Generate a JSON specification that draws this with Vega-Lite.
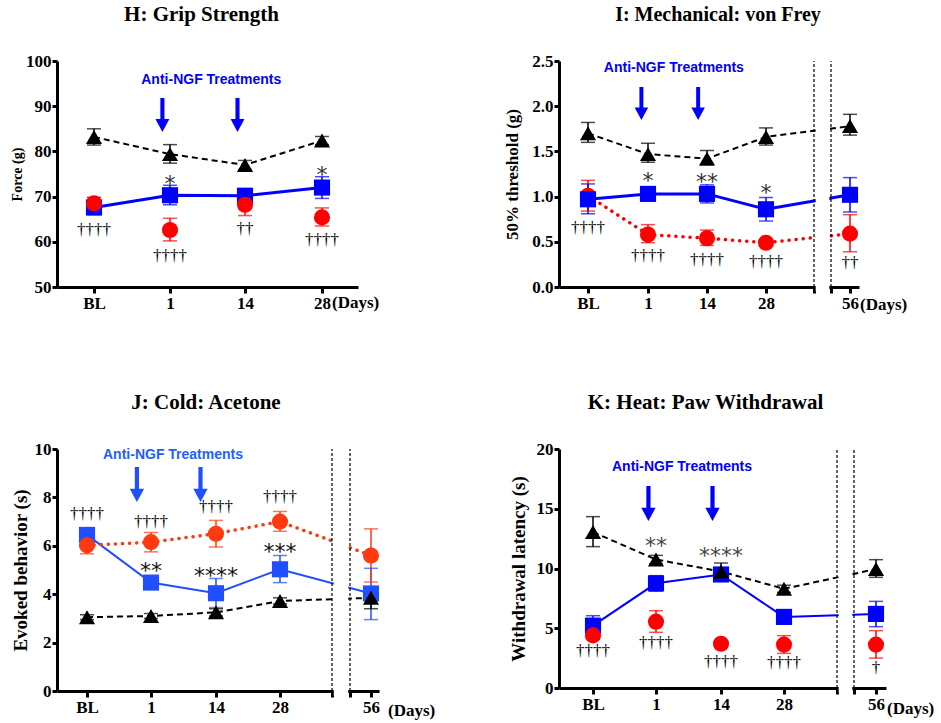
{
"$schema": "https://vega.github.io/schema/vega-lite/v6.json",
"background": "white",
"padding": {"left": 10, "top": 4, "right": 5, "bottom": 5},
"columns": 2,
"spacing": {"row": 162, "column": 180},
"bounds": "flush",
"align": "each",
"resolve": {"scale": {"color": "independent", "shape": "independent"}},
"datasets": {
"H": [
{"day":0,"grp":"Anti-NGF","mean":67.6,"lo":66.0,"hi":69.8},
{"day":1,"grp":"Anti-NGF","mean":70.3,"lo":68.2,"hi":72.5},
{"day":14,"grp":"Anti-NGF","mean":70.2,"lo":68.6,"hi":71.6},
{"day":28,"grp":"Anti-NGF","mean":72.0,"lo":69.6,"hi":74.4},
{"day":0,"grp":"Vehicle","mean":68.5,"lo":67.2,"hi":69.8},
{"day":1,"grp":"Vehicle","mean":62.6,"lo":60.2,"hi":65.2},
{"day":14,"grp":"Vehicle","mean":68.2,"lo":65.8,"hi":70.7},
{"day":28,"grp":"Vehicle","mean":65.4,"lo":63.5,"hi":67.5},
{"day":0,"grp":"Sham","mean":83.2,"lo":81.4,"hi":85.0},
{"day":1,"grp":"Sham","mean":79.4,"lo":77.4,"hi":81.5},
{"day":14,"grp":"Sham","mean":77.0,"lo":76.0,"hi":78.0},
{"day":28,"grp":"Sham","mean":82.4,"lo":81.5,"hi":83.3}
],
"Hann": [
{"day":1,"y":74.0,"label":"*"},
{"day":28,"y":75.8,"label":"*"},
{"day":0,"y":62.6,"label":"††††"},
{"day":1,"y":56.8,"label":"††††"},
{"day":14,"y":62.8,"label":"††"},
{"day":28,"y":60.3,"label":"††††"}
],
"I": [
{"day":0,"grp":"Vehicle","mean":1.01,"lo":0.84,"hi":1.18},
{"day":1,"grp":"Vehicle","mean":0.58,"lo":0.49,"hi":0.69},
{"day":14,"grp":"Vehicle","mean":0.54,"lo":0.46,"hi":0.63},
{"day":28,"grp":"Vehicle","mean":0.49,"lo":0.45,"hi":0.53},
{"day":56,"grp":"Vehicle","mean":0.59,"lo":0.39,"hi":0.80},
{"day":0,"grp":"Anti-NGF","mean":0.97,"lo":0.81,"hi":1.14},
{"day":1,"grp":"Anti-NGF","mean":1.03,"lo":0.97,"hi":1.09},
{"day":14,"grp":"Anti-NGF","mean":1.03,"lo":0.93,"hi":1.13},
{"day":28,"grp":"Anti-NGF","mean":0.86,"lo":0.73,"hi":0.99},
{"day":56,"grp":"Anti-NGF","mean":1.02,"lo":0.83,"hi":1.21},
{"day":0,"grp":"Sham","mean":1.70,"lo":1.60,"hi":1.82},
{"day":1,"grp":"Sham","mean":1.47,"lo":1.38,"hi":1.59},
{"day":14,"grp":"Sham","mean":1.42,"lo":1.35,"hi":1.51},
{"day":28,"grp":"Sham","mean":1.66,"lo":1.57,"hi":1.76},
{"day":56,"grp":"Sham","mean":1.78,"lo":1.68,"hi":1.91}
],
"Iann": [
{"day":1,"y":1.23,"label":"*"},
{"day":14,"y":1.22,"label":"**"},
{"day":28,"y":1.09,"label":"*"},
{"day":0,"y":0.65,"label":"††††"},
{"day":1,"y":0.34,"label":"††††"},
{"day":14,"y":0.30,"label":"††††"},
{"day":28,"y":0.28,"label":"††††"},
{"day":56,"y":0.26,"label":"††"}
],
"J": [
{"day":0,"grp":"Anti-NGF","mean":6.45,"lo":6.3,"hi":6.6},
{"day":1,"grp":"Anti-NGF","mean":4.48,"lo":4.3,"hi":4.65},
{"day":14,"grp":"Anti-NGF","mean":4.04,"lo":3.45,"hi":4.65},
{"day":28,"grp":"Anti-NGF","mean":5.03,"lo":4.48,"hi":5.6},
{"day":56,"grp":"Anti-NGF","mean":4.03,"lo":2.95,"hi":5.07},
{"day":0,"grp":"Vehicle","mean":6.02,"lo":5.67,"hi":6.38},
{"day":1,"grp":"Vehicle","mean":6.15,"lo":5.75,"hi":6.55},
{"day":14,"grp":"Vehicle","mean":6.5,"lo":5.95,"hi":7.05},
{"day":28,"grp":"Vehicle","mean":7.0,"lo":6.6,"hi":7.42},
{"day":56,"grp":"Vehicle","mean":5.6,"lo":4.5,"hi":6.7},
{"day":0,"grp":"Sham","mean":3.05,"lo":2.95,"hi":3.15},
{"day":1,"grp":"Sham","mean":3.1,"lo":3.0,"hi":3.2},
{"day":14,"grp":"Sham","mean":3.25,"lo":3.1,"hi":3.4},
{"day":28,"grp":"Sham","mean":3.72,"lo":3.6,"hi":3.85},
{"day":56,"grp":"Sham","mean":3.85,"lo":3.4,"hi":4.3}
],
"Jann": [
{"day":0,"y":7.3,"label":"††††"},
{"day":1,"y":6.97,"label":"††††"},
{"day":14,"y":7.59,"label":"††††"},
{"day":28,"y":8.0,"label":"††††"},
{"day":1,"y":5.17,"label":"**"},
{"day":14,"y":4.97,"label":"****"},
{"day":28,"y":5.93,"label":"***"}
],
"K": [
{"day":0,"grp":"Anti-NGF","mean":5.22,"lo":4.9,"hi":6.05},
{"day":1,"grp":"Anti-NGF","mean":8.76,"lo":8.1,"hi":9.4},
{"day":14,"grp":"Anti-NGF","mean":9.5,"lo":9.2,"hi":9.9},
{"day":28,"grp":"Anti-NGF","mean":5.95,"lo":5.6,"hi":6.3},
{"day":56,"grp":"Anti-NGF","mean":6.2,"lo":5.13,"hi":7.25},
{"day":0,"grp":"Vehicle","mean":4.4,"lo":4.1,"hi":4.7},
{"day":1,"grp":"Vehicle","mean":5.55,"lo":4.66,"hi":6.47},
{"day":14,"grp":"Vehicle","mean":3.7,"lo":3.5,"hi":3.9},
{"day":28,"grp":"Vehicle","mean":3.63,"lo":2.9,"hi":4.38},
{"day":56,"grp":"Vehicle","mean":3.63,"lo":2.5,"hi":4.8},
{"day":0,"grp":"Sham","mean":13.05,"lo":11.83,"hi":14.34},
{"day":1,"grp":"Sham","mean":10.75,"lo":10.4,"hi":11.1},
{"day":14,"grp":"Sham","mean":9.75,"lo":9.4,"hi":10.46},
{"day":28,"grp":"Sham","mean":8.3,"lo":8.0,"hi":8.6},
{"day":56,"grp":"Sham","mean":9.95,"lo":9.26,"hi":10.74}
],
"Kann": [
{"day":1,"y":12.3,"label":"**"},
{"day":14,"y":11.5,"label":"****"},
{"day":0,"y":3.1,"label":"††††"},
{"day":1,"y":3.8,"label":"††††"},
{"day":14,"y":2.15,"label":"††††"},
{"day":28,"y":2.06,"label":"††††"},
{"day":56,"y":1.7,"label":"†"}
]
},
"concat": [
{
"width": 301, "height": 226,
"title": {"text": "H: Grip Strength", "dx": -6},
"encoding": {
"x": {"field": "day", "type": "quantitative", "title": null,
"scale": {"domain": [-1, 0, 1, 14, 28, 35], "range": [0, 37, 113, 188, 265, 301], "nice": false, "zero": false},
"axis": {"values": [0, 1, 14, 28], "labelExpr": "datum.value==0?'BL':datum.label"}},
"y": {"field": "mean", "type": "quantitative", "title": "Force (g)",
"scale": {"domain": [50, 100], "nice": false, "zero": false},
"axis": {"values": [50, 60, 70, 80, 90, 100], "titleX": -33, "titleFontSize": 14}}
},
"layer": [
{"data": {"name": "H"}, "transform": [{"filter": "datum.grp=='Sham'"}], "mark": {"type": "line", "color": "black", "strokeWidth": 2, "strokeDash": [6, 4]}},
{"data": {"name": "H"}, "transform": [{"filter": "datum.grp=='Anti-NGF'"}], "mark": {"type": "line", "color": "#0000ff", "strokeWidth": 3}},
{"data": {"name": "H"}, "mark": {"type": "rule", "strokeWidth": 1.5},
"encoding": {"y": {"field": "lo", "type": "quantitative"}, "y2": {"field": "hi"},
"color": {"field": "grp", "type": "nominal", "legend": null, "scale": {"domain": ["Sham", "Vehicle", "Anti-NGF"], "range": ["black", "#ff0000", "#0000ff"]}}}},
{"data": {"name": "H"}, "mark": {"type": "tick", "orient": "horizontal", "size": 14, "thickness": 1.5},
"encoding": {"y": {"field": "lo", "type": "quantitative"},
"color": {"field": "grp", "type": "nominal", "legend": null, "scale": {"domain": ["Sham", "Vehicle", "Anti-NGF"], "range": ["black", "#ff0000", "#0000ff"]}}}},
{"data": {"name": "H"}, "mark": {"type": "tick", "orient": "horizontal", "size": 14, "thickness": 1.5},
"encoding": {"y": {"field": "hi", "type": "quantitative"},
"color": {"field": "grp", "type": "nominal", "legend": null, "scale": {"domain": ["Sham", "Vehicle", "Anti-NGF"], "range": ["black", "#ff0000", "#0000ff"]}}}},
{"data": {"name": "H"}, "mark": {"type": "point", "filled": true, "opacity": 1, "size": 260},
"encoding": {
"color": {"field": "grp", "type": "nominal", "legend": null, "scale": {"domain": ["Sham", "Vehicle", "Anti-NGF"], "range": ["black", "#ff0000", "#0000ff"]}},
"shape": {"field": "grp", "type": "nominal", "legend": null, "scale": {"domain": ["Sham", "Vehicle", "Anti-NGF"], "range": ["triangle-up", "circle", "square"]}}}},
{"data": {"name": "Hann"}, "transform": [{"filter": "indexof(datum.label,'*')>=0"}], "mark": {"type": "text", "font": "DejaVu Sans", "fontSize": 22, "baseline": "alphabetic", "dy": 12, "color": "#333333"},
"encoding": {"y": {"field": "y", "type": "quantitative"}, "text": {"field": "label"}}},
{"data": {"name": "Hann"}, "transform": [{"filter": "indexof(datum.label,'*')<0"}], "mark": {"type": "text", "font": "Liberation Serif", "fontSize": 17, "baseline": "middle", "color": "black"},
"encoding": {"y": {"field": "y", "type": "quantitative"}, "text": {"field": "label"}}},
{"data": {"values": [{"day": 0.9, "y": 88.05}, {"day": 12.7, "y": 88.05}]},
"mark": {"type": "point", "filled": true, "opacity": 1, "color": "#0000ff", "size": 1156, "strokeWidth": 0, "shape": "M-0.12,-1L0.12,-1L0.12,0.24L0.41,0.24L0,1L-0.41,0.24L-0.12,0.24Z"},
"encoding": {"y": {"field": "y", "type": "quantitative"}}},
{"data": {"values": [{"day": 8.15, "y": 95.8, "label": "Anti-NGF Treatments"}]},
"mark": {"type": "text", "font": "Liberation Sans", "fontSize": 14, "fontWeight": "bold", "color": "#0000ff", "baseline": "middle"},
"encoding": {"y": {"field": "y", "type": "quantitative"}, "text": {"field": "label"}}},
{"data": {"values": [{"day": 28, "y": 50, "label": "(Days)"}]},
"mark": {"type": "text", "font": "Liberation Serif", "fontSize": 17, "fontWeight": "bold", "color": "black", "align": "left", "baseline": "middle", "dx": 10, "dy": 16},
"encoding": {"y": {"field": "y", "type": "quantitative"}, "text": {"field": "label"}}}
]
},
{
"width": 300, "height": 226,
"title": {"text": "I: Mechanical: von Frey", "dx": 9, "fontSize": 20},
"encoding": {
"x": {"field": "day", "type": "quantitative", "title": null,
"scale": {"domain": [-1, 0, 1, 14, 28, 42, 49, 56, 60], "range": [0, 29, 89, 148, 207, 255, 272, 291, 300], "nice": false, "zero": false},
"axis": {"values": [0, 1, 14, 28, 42, 49, 56], "labelExpr": "datum.value==0?'BL':(datum.value==42||datum.value==49)?'':datum.label"}},
"y": {"field": "mean", "type": "quantitative", "title": "50%  threshold (g)",
"scale": {"domain": [0, 2.5], "nice": false, "zero": false},
"axis": {"values": [0, 0.5, 1, 1.5, 2, 2.5], "format": ".1f", "titleX": -38, "titleFontSize": 17}}
},
"layer": [
{"data": {"name": "I"}, "transform": [{"filter": "datum.grp=='Sham'"}], "mark": {"type": "line", "color": "black", "strokeWidth": 2, "strokeDash": [6, 4]}},
{"data": {"name": "I"}, "transform": [{"filter": "datum.grp=='Anti-NGF'"}], "mark": {"type": "line", "color": "#0000ff", "strokeWidth": 3}},
{"data": {"name": "I"}, "transform": [{"filter": "datum.grp=='Vehicle'"}], "mark": {"type": "line", "color": "#ff0000", "strokeWidth": 3.5, "strokeDash": [0.1, 7], "strokeCap": "round"}},
{"data": {"values": [{"gx1": 42.7, "gx2": 48.3, "gy1": -0.05, "gy2": 2.5}]}, "mark": {"type": "rect", "fill": "white", "stroke": null},
"encoding": {"x": {"field": "gx1", "type": "quantitative"}, "x2": {"field": "gx2"}, "y": {"field": "gy1", "type": "quantitative"}, "y2": {"field": "gy2"}}},
{"data": {"values": [{"b": 42, "gy1": 0, "gy2": 2.5}, {"b": 49, "gy1": 0, "gy2": 2.5}]}, "mark": {"type": "rule", "color": "black", "strokeWidth": 1.2, "strokeDash": [3, 2]},
"encoding": {"x": {"field": "b", "type": "quantitative"}, "y": {"field": "gy1", "type": "quantitative"}, "y2": {"field": "gy2"}}},
{"data": {"name": "I"}, "mark": {"type": "rule", "strokeWidth": 1.5},
"encoding": {"y": {"field": "lo", "type": "quantitative"}, "y2": {"field": "hi"},
"color": {"field": "grp", "type": "nominal", "legend": null, "scale": {"domain": ["Sham", "Vehicle", "Anti-NGF"], "range": ["black", "#ff0000", "#0000ff"]}}}},
{"data": {"name": "I"}, "mark": {"type": "tick", "orient": "horizontal", "size": 14, "thickness": 1.5},
"encoding": {"y": {"field": "lo", "type": "quantitative"},
"color": {"field": "grp", "type": "nominal", "legend": null, "scale": {"domain": ["Sham", "Vehicle", "Anti-NGF"], "range": ["black", "#ff0000", "#0000ff"]}}}},
{"data": {"name": "I"}, "mark": {"type": "tick", "orient": "horizontal", "size": 14, "thickness": 1.5},
"encoding": {"y": {"field": "hi", "type": "quantitative"},
"color": {"field": "grp", "type": "nominal", "legend": null, "scale": {"domain": ["Sham", "Vehicle", "Anti-NGF"], "range": ["black", "#ff0000", "#0000ff"]}}}},
{"data": {"name": "I"}, "mark": {"type": "point", "filled": true, "opacity": 1, "size": 260},
"encoding": {
"color": {"field": "grp", "type": "nominal", "legend": null, "scale": {"domain": ["Sham", "Vehicle", "Anti-NGF"], "range": ["black", "#ff0000", "#0000ff"]}},
"shape": {"field": "grp", "type": "nominal", "legend": null, "scale": {"domain": ["Sham", "Vehicle", "Anti-NGF"], "range": ["triangle-up", "circle", "square"]}}}},
{"data": {"name": "Iann"}, "transform": [{"filter": "indexof(datum.label,'*')>=0"}], "mark": {"type": "text", "font": "DejaVu Sans", "fontSize": 22, "baseline": "alphabetic", "dy": 12, "color": "#333333"},
"encoding": {"y": {"field": "y", "type": "quantitative"}, "text": {"field": "label"}}},
{"data": {"name": "Iann"}, "transform": [{"filter": "indexof(datum.label,'*')<0"}], "mark": {"type": "text", "font": "Liberation Serif", "fontSize": 17, "baseline": "middle", "color": "black"},
"encoding": {"y": {"field": "y", "type": "quantitative"}, "text": {"field": "label"}}},
{"data": {"values": [{"day": 0.89, "y": 2.03}, {"day": 12.05, "y": 2.03}]},
"mark": {"type": "point", "filled": true, "opacity": 1, "color": "#0000ff", "size": 1089, "strokeWidth": 0, "shape": "M-0.12,-1L0.12,-1L0.12,0.24L0.41,0.24L0,1L-0.41,0.24L-0.12,0.24Z"},
"encoding": {"y": {"field": "y", "type": "quantitative"}}},
{"data": {"values": [{"day": 6.7, "y": 2.42, "label": "Anti-NGF Treatments"}]},
"mark": {"type": "text", "font": "Liberation Sans", "fontSize": 14, "fontWeight": "bold", "color": "#0000ff", "baseline": "middle"},
"encoding": {"y": {"field": "y", "type": "quantitative"}, "text": {"field": "label"}}},
{"data": {"values": [{"day": 56, "y": 0, "label": "(Days)"}]},
"mark": {"type": "text", "font": "Liberation Serif", "fontSize": 17, "fontWeight": "bold", "color": "black", "align": "left", "baseline": "middle", "dx": 10, "dy": 18},
"encoding": {"y": {"field": "y", "type": "quantitative"}, "text": {"field": "label"}}}
]
},
{
"width": 322, "height": 242,
"title": {"text": "J: Cold: Acetone", "dx": -12},
"encoding": {
"x": {"field": "day", "type": "quantitative", "title": null,
"scale": {"domain": [-1, 0, 1, 14, 28, 42, 49, 56, 60], "range": [0, 30, 94, 159, 223, 275, 293, 314, 322], "nice": false, "zero": false},
"axis": {"values": [0, 1, 14, 28, 42, 49, 56], "labelExpr": "datum.value==0?'BL':(datum.value==42||datum.value==49)?'':datum.label"}},
"y": {"field": "mean", "type": "quantitative", "title": "Evoked behavior (s)",
"scale": {"domain": [0, 10], "nice": false, "zero": false},
"axis": {"values": [0, 2, 4, 6, 8, 10], "titleX": -27, "titleFontSize": 19}}
},
"layer": [
{"data": {"name": "J"}, "transform": [{"filter": "datum.grp=='Sham'"}], "mark": {"type": "line", "color": "black", "strokeWidth": 2, "strokeDash": [6, 4]}},
{"data": {"name": "J"}, "transform": [{"filter": "datum.grp=='Anti-NGF'"}], "mark": {"type": "line", "color": "#1f4fff", "strokeWidth": 2}},
{"data": {"name": "J"}, "transform": [{"filter": "datum.grp=='Vehicle'"}], "mark": {"type": "line", "color": "#ff3a10", "strokeWidth": 3.5, "strokeDash": [0.1, 7], "strokeCap": "round"}},
{"data": {"values": [{"gx1": 42.7, "gx2": 48.3, "gy1": -0.2, "gy2": 10}]}, "mark": {"type": "rect", "fill": "white", "stroke": null},
"encoding": {"x": {"field": "gx1", "type": "quantitative"}, "x2": {"field": "gx2"}, "y": {"field": "gy1", "type": "quantitative"}, "y2": {"field": "gy2"}}},
{"data": {"values": [{"b": 42, "gy1": 0, "gy2": 10}, {"b": 49, "gy1": 0, "gy2": 10}]}, "mark": {"type": "rule", "color": "black", "strokeWidth": 1.2, "strokeDash": [3, 2]},
"encoding": {"x": {"field": "b", "type": "quantitative"}, "y": {"field": "gy1", "type": "quantitative"}, "y2": {"field": "gy2"}}},
{"data": {"name": "J"}, "mark": {"type": "rule", "strokeWidth": 1.5},
"encoding": {"y": {"field": "lo", "type": "quantitative"}, "y2": {"field": "hi"},
"color": {"field": "grp", "type": "nominal", "legend": null, "scale": {"domain": ["Sham", "Vehicle", "Anti-NGF"], "range": ["black", "#ff3a10", "#1f4fff"]}}}},
{"data": {"name": "J"}, "mark": {"type": "tick", "orient": "horizontal", "size": 14, "thickness": 1.5},
"encoding": {"y": {"field": "lo", "type": "quantitative"},
"color": {"field": "grp", "type": "nominal", "legend": null, "scale": {"domain": ["Sham", "Vehicle", "Anti-NGF"], "range": ["black", "#ff3a10", "#1f4fff"]}}}},
{"data": {"name": "J"}, "mark": {"type": "tick", "orient": "horizontal", "size": 14, "thickness": 1.5},
"encoding": {"y": {"field": "hi", "type": "quantitative"},
"color": {"field": "grp", "type": "nominal", "legend": null, "scale": {"domain": ["Sham", "Vehicle", "Anti-NGF"], "range": ["black", "#ff3a10", "#1f4fff"]}}}},
{"data": {"name": "J"}, "mark": {"type": "point", "filled": true, "opacity": 1, "size": 260},
"encoding": {
"color": {"field": "grp", "type": "nominal", "legend": null, "scale": {"domain": ["Sham", "Vehicle", "Anti-NGF"], "range": ["black", "#ff3a10", "#1f4fff"]}},
"shape": {"field": "grp", "type": "nominal", "legend": null, "scale": {"domain": ["Sham", "Vehicle", "Anti-NGF"], "range": ["triangle-up", "circle", "square"]}}}},
{"data": {"name": "Jann"}, "transform": [{"filter": "indexof(datum.label,'*')>=0"}], "mark": {"type": "text", "font": "DejaVu Sans", "fontSize": 22, "baseline": "alphabetic", "dy": 12, "color": "#111111"},
"encoding": {"y": {"field": "y", "type": "quantitative"}, "text": {"field": "label"}}},
{"data": {"name": "Jann"}, "transform": [{"filter": "indexof(datum.label,'*')<0"}], "mark": {"type": "text", "font": "Liberation Serif", "fontSize": 17, "baseline": "middle", "color": "black"},
"encoding": {"y": {"field": "y", "type": "quantitative"}, "text": {"field": "label"}}},
{"data": {"values": [{"day": 0.78, "y": 8.53}, {"day": 10.9, "y": 8.53}]},
"mark": {"type": "point", "filled": true, "opacity": 1, "color": "#1f4fff", "size": 1225, "strokeWidth": 0, "shape": "M-0.12,-1L0.12,-1L0.12,0.24L0.41,0.24L0,1L-0.41,0.24L-0.12,0.24Z"},
"encoding": {"y": {"field": "y", "type": "quantitative"}}},
{"data": {"values": [{"day": 5.4, "y": 9.75, "label": "Anti-NGF Treatments"}]},
"mark": {"type": "text", "font": "Liberation Sans", "fontSize": 14, "fontWeight": "bold", "color": "#1f5fff", "baseline": "middle"},
"encoding": {"y": {"field": "y", "type": "quantitative"}, "text": {"field": "label"}}},
{"data": {"values": [{"day": 56, "y": 0, "label": "(Days)"}]},
"mark": {"type": "text", "font": "Liberation Serif", "fontSize": 17, "fontWeight": "bold", "color": "black", "align": "left", "baseline": "middle", "dx": 17, "dy": 20},
"encoding": {"y": {"field": "y", "type": "quantitative"}, "text": {"field": "label"}}}
]
},
{
"width": 327, "height": 239,
"title": {"text": "K: Heat: Paw Withdrawal", "dx": -17},
"encoding": {
"x": {"field": "day", "type": "quantitative", "title": null,
"scale": {"domain": [-1, 0, 1, 14, 28, 42, 49, 56, 60], "range": [0, 34, 97, 162, 225, 278, 295, 317, 327], "nice": false, "zero": false},
"axis": {"values": [0, 1, 14, 28, 42, 49, 56], "labelExpr": "datum.value==0?'BL':(datum.value==42||datum.value==49)?'':datum.label"}},
"y": {"field": "mean", "type": "quantitative", "title": "Withdrawal latency (s)",
"scale": {"domain": [0, 20], "nice": false, "zero": false},
"axis": {"values": [0, 5, 10, 15, 20], "titleX": -31, "titleFontSize": 19}}
},
"layer": [
{"data": {"name": "K"}, "transform": [{"filter": "datum.grp=='Sham'"}], "mark": {"type": "line", "color": "black", "strokeWidth": 2, "strokeDash": [6, 4]}},
{"data": {"name": "K"}, "transform": [{"filter": "datum.grp=='Anti-NGF'"}], "mark": {"type": "line", "color": "#0000ff", "strokeWidth": 2}},
{"data": {"values": [{"gx1": 42.7, "gx2": 48.3, "gy1": -0.4, "gy2": 20}]}, "mark": {"type": "rect", "fill": "white", "stroke": null},
"encoding": {"x": {"field": "gx1", "type": "quantitative"}, "x2": {"field": "gx2"}, "y": {"field": "gy1", "type": "quantitative"}, "y2": {"field": "gy2"}}},
{"data": {"values": [{"b": 42, "gy1": 0, "gy2": 20}, {"b": 49, "gy1": 0, "gy2": 20}]}, "mark": {"type": "rule", "color": "black", "strokeWidth": 1.2, "strokeDash": [3, 2]},
"encoding": {"x": {"field": "b", "type": "quantitative"}, "y": {"field": "gy1", "type": "quantitative"}, "y2": {"field": "gy2"}}},
{"data": {"name": "K"}, "mark": {"type": "rule", "strokeWidth": 1.5},
"encoding": {"y": {"field": "lo", "type": "quantitative"}, "y2": {"field": "hi"},
"color": {"field": "grp", "type": "nominal", "legend": null, "scale": {"domain": ["Sham", "Vehicle", "Anti-NGF"], "range": ["black", "#ff0000", "#0000ff"]}}}},
{"data": {"name": "K"}, "mark": {"type": "tick", "orient": "horizontal", "size": 14, "thickness": 1.5},
"encoding": {"y": {"field": "lo", "type": "quantitative"},
"color": {"field": "grp", "type": "nominal", "legend": null, "scale": {"domain": ["Sham", "Vehicle", "Anti-NGF"], "range": ["black", "#ff0000", "#0000ff"]}}}},
{"data": {"name": "K"}, "mark": {"type": "tick", "orient": "horizontal", "size": 14, "thickness": 1.5},
"encoding": {"y": {"field": "hi", "type": "quantitative"},
"color": {"field": "grp", "type": "nominal", "legend": null, "scale": {"domain": ["Sham", "Vehicle", "Anti-NGF"], "range": ["black", "#ff0000", "#0000ff"]}}}},
{"data": {"name": "K"}, "mark": {"type": "point", "filled": true, "opacity": 1, "size": 260},
"encoding": {
"color": {"field": "grp", "type": "nominal", "legend": null, "scale": {"domain": ["Sham", "Vehicle", "Anti-NGF"], "range": ["black", "#ff0000", "#0000ff"]}},
"shape": {"field": "grp", "type": "nominal", "legend": null, "scale": {"domain": ["Sham", "Vehicle", "Anti-NGF"], "range": ["triangle-up", "circle", "square"]}}}},
{"data": {"name": "Kann"}, "transform": [{"filter": "indexof(datum.label,'*')>=0"}], "mark": {"type": "text", "font": "DejaVu Sans", "fontSize": 22, "baseline": "alphabetic", "dy": 12, "color": "#444444"},
"encoding": {"y": {"field": "y", "type": "quantitative"}, "text": {"field": "label"}}},
{"data": {"name": "Kann"}, "transform": [{"filter": "indexof(datum.label,'*')<0"}], "mark": {"type": "text", "font": "Liberation Serif", "fontSize": 17, "baseline": "middle", "color": "black"},
"encoding": {"y": {"field": "y", "type": "quantitative"}, "text": {"field": "label"}}},
{"data": {"values": [{"day": 0.88, "y": 15.44}, {"day": 12.3, "y": 15.44}]},
"mark": {"type": "point", "filled": true, "opacity": 1, "color": "#0000ff", "size": 1225, "strokeWidth": 0, "shape": "M-0.12,-1L0.12,-1L0.12,0.24L0.41,0.24L0,1L-0.41,0.24L-0.12,0.24Z"},
"encoding": {"y": {"field": "y", "type": "quantitative"}}},
{"data": {"values": [{"day": 6.2, "y": 18.5, "label": "Anti-NGF Treatments"}]},
"mark": {"type": "text", "font": "Liberation Sans", "fontSize": 14, "fontWeight": "bold", "color": "#0000ff", "baseline": "middle"},
"encoding": {"y": {"field": "y", "type": "quantitative"}, "text": {"field": "label"}}},
{"data": {"values": [{"day": 56, "y": 0, "label": "(Days)"}]},
"mark": {"type": "text", "font": "Liberation Serif", "fontSize": 17, "fontWeight": "bold", "color": "black", "align": "left", "baseline": "middle", "dx": 11, "dy": 21},
"encoding": {"y": {"field": "y", "type": "quantitative"}, "text": {"field": "label"}}}
]
}
],
"config": {
"view": {"stroke": null},
"font": "Liberation Serif",
"axis": {"grid": false, "domainColor": "black", "domainWidth": 3, "tickColor": "black", "tickWidth": 3, "tickSize": 6,
"labelFont": "Liberation Serif", "labelFontWeight": "bold", "labelFontSize": 17, "labelColor": "black", "labelPadding": 2, "labelFlush": false,
"titleFont": "Liberation Serif", "titleFontWeight": "bold", "titleFontSize": 16, "titleColor": "black"},
"axisY": {"tickSize": 5, "labelPadding": 1, "labelFontSize": 17},
"title": {"font": "Liberation Serif", "fontSize": 21, "fontWeight": "bold", "color": "black", "offset": 27, "frame": "group", "anchor": "middle"}
}
}
